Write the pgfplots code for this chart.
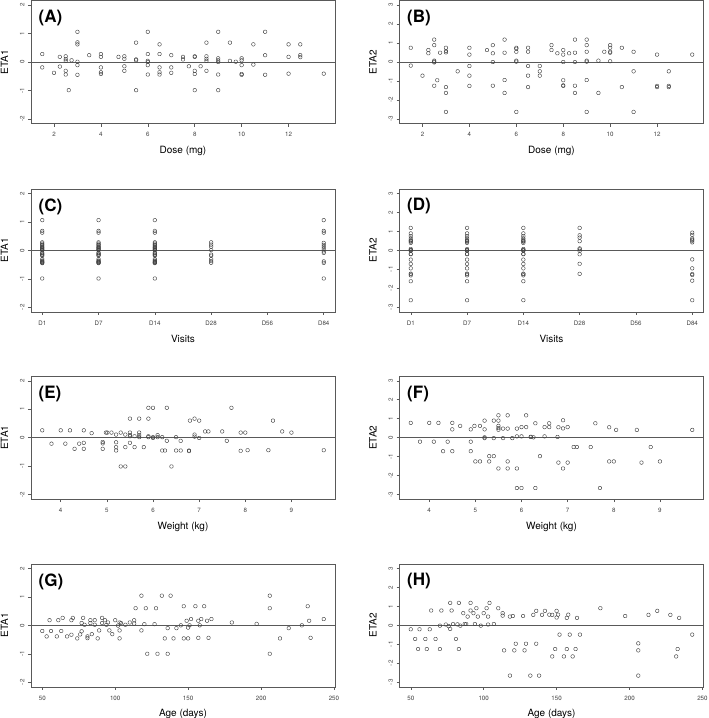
\documentclass[border=0pt]{standalone}
\usepackage{fontspec}
\setmainfont{TeX Gyre Heros}
\usepackage{pgfplots}
\pgfplotsset{compat=1.18}
\pgfdeclareplotmark{ring}{%
  \pgfpathmoveto{\pgfpointpolar{0}{\pgfplotmarksize}}%
  \foreach \a in {20,40,...,340}{\pgfpathlineto{\pgfpointpolar{\a}{\pgfplotmarksize}}}%
  \pgfpathclose\pgfusepathqstroke}
\tikzset{plab/.style={anchor=north west, inner sep=0pt, xshift=7.5pt, yshift=-9.5pt, font=\fontsize{17}{20}\bfseries\selectfont}}
\pgfplotsset{
 pan/.style={
  scale only axis, width=304pt, height=123pt,
  axis line style={black!65, line width=0.6pt},
  tick pos=left, tick align=outside, major tick length=3pt,
  tick style={black!65, line width=0.5pt},
  every tick label/.append style={font=\fontsize{6.2}{7.5}\selectfont, black!75},
  /pgf/number format/assume math mode=true,
  yticklabel style={rotate=90, anchor=south},
  xticklabel style={yshift=-2.5pt},
  label style={font=\fontsize{6.6}{8}\selectfont, black!75},
  every axis x label/.style={at={(rel axis cs:0.5,0)}, yshift=-27.5pt, anchor=center},
  every axis y label/.style={at={(rel axis cs:0,0.5)}, xshift=-26.5pt, rotate=90, anchor=center},
 },
 e1/.style={ymin=-2.16, ymax=2.16, ytick={-2,-1,0,1,2}, ylabel={ETA1}},
 e2/.style={ymin=-3.24, ymax=3.24, ytick={-3,-2,-1,0,1,2,3}, ylabel={ETA2}},
 dose/.style={xmin=1.02, xmax=13.98, xtick={2,4,6,8,10,12}, xlabel={Dose (mg)}},
 vis/.style={xmin=0.8, xmax=6.2, xtick={1,2,3,4,5,6}, xticklabels={D1,D7,D14,D28,D56,D84}, xlabel={Visits}},
 wt/.style={xmin=3.356, xmax=9.944, xtick={4,5,6,7,8,9}, xlabel={Weight (kg)}},
 age/.style={xmin=42.28, xmax=250.72, xtick={50,100,150,200,250}, xlabel={Age (days)}},
 pts/.style={only marks, mark=ring, mark size=1.75pt, mark options={black!75, line width=0.45pt}},
 zl/.style={no marks, black!65, line width=0.6pt},
}
\begin{document}
\begin{tikzpicture}
\useasboundingbox (0,0) rectangle (709pt,-718pt);
% (A)
\begin{axis}[pan, e1, dose, at={(31pt,-0.5pt)}, anchor=north west]
\addplot[zl] coordinates {(1.02,0) (13.98,0)};
\addplot[pts] coordinates {(1.5,0.28)(1.5,-0.19)(2,-0.38)(2.25,0.18)(2.25,-0.16)(2.5,0.2)(2.5,0.1)(2.5,0.04)(2.5,-0.31)(2.5,-0.44)(2.63,-0.99)(2.75,0.06)(3,1.06)(3,0.69)(3,0.62)(3,0.01)(3,-0.11)(3,-0.45)(3.5,0.24)(4,0.28)(4,0.18)(4,-0.19)(4,-0.36)(4,-0.42)(4.75,0.18)(5,0.2)(5,0.11)(5,-0.15)(5,-0.31)(5.5,0.68)(5.5,0.09)(5.5,0.06)(5.5,-0.99)(6,1.06)(6,0.28)(6,0.04)(6,0)(6,-0.11)(6,-0.44)(6.5,0.62)(6.5,0.28)(6.5,-0.19)(6.5,-0.36)(6.5,-0.44)(7,0.24)(7,-0.19)(7,-0.38)(7.5,0.18)(7.5,0.09)(7.75,-0.15)(8,0.2)(8,0.18)(8,-0.31)(8,-0.42)(8,-0.99)(8.25,-0.15)(8.5,0.68)(8.5,0.2)(8.5,0.11)(8.5,0.04)(8.5,-0.31)(9,1.06)(9,0.13)(9,0.06)(9,0)(9,-0.44)(9,-0.99)(9.5,0.68)(9.5,0.04)(9.75,0.01)(10,0.13)(10,0.06)(10,-0.11)(10,-0.42)(10,-0.45)(10.5,0.62)(10.5,-0.09)(11,1.06)(11,0.24)(11,-0.45)(12,0.62)(12,0.18)(12,-0.41)(12.5,0.62)(12.5,0.24)(12.5,0.17)(13.5,-0.41)};
\node[plab] at (rel axis cs:0,1) {(A)};
\end{axis}
% (B)
\begin{axis}[pan, e2, dose, at={(399.5pt,-0.5pt)}, anchor=north west]
\addplot[zl] coordinates {(1.02,0) (13.98,0)};
\addplot[pts] coordinates {(1.5,0.75)(1.5,-0.19)(2,-0.72)(2.25,0.63)(2.25,0.46)(2.5,1.18)(2.5,0.89)(2.5,0.07)(2.5,0.02)(2.5,-0.02)(2.5,-1.25)(2.63,-0.96)(2.75,0.49)(3,0.75)(3,0.58)(3,0.51)(3,-1.32)(3,-1.63)(3,-2.63)(3.5,-0.49)(4,0.75)(4,0.39)(4,-0.21)(4,-0.72)(4,-1.26)(4.75,0.63)(5,0.89)(5,0.46)(5,0)(5,-1.25)(5.5,1.18)(5.5,0.49)(5.5,-0.95)(5.5,-1.63)(6,0.75)(6,0.7)(6,0.54)(6,0.07)(6,0.02)(6,-2.63)(6.5,0.75)(6.5,0.54)(6.5,-0.21)(6.5,-0.72)(6.5,-1.32)(7,-0.21)(7,-0.49)(7,-0.72)(7.5,0.89)(7.5,0.63)(7.75,0.46)(8,0.63)(8,0.39)(8,0)(8,-0.96)(8,-1.23)(8,-1.26)(8.25,0.46)(8.5,1.18)(8.5,0.49)(8.5,0)(8.5,-1.25)(8.5,-1.63)(9,1.18)(9,0.89)(9,0.54)(9,0.07)(9,0.02)(9,-0.95)(9,-2.63)(9.5,0.07)(9.5,-1.63)(9.75,0.54)(10,0.89)(10,0.75)(10,0.54)(10,0.49)(10,0.04)(10.5,0.75)(10.5,-1.32)(11,0.54)(11,-0.49)(11,-2.63)(12,0.39)(12,-1.26)(12,-1.32)(12.5,-0.49)(12.5,-1.26)(12.5,-1.32)(13.5,0.39)};
\node[plab] at (rel axis cs:0,1) {(B)};
\end{axis}
% (C)
\begin{axis}[pan, e1, vis, at={(31pt,-188.8pt)}, anchor=north west]
\addplot[zl] coordinates {(0.8,0) (6.2,0)};
\addplot[pts] coordinates {
(1,1.06)(1,0.68)(1,0.62)(1,0.28)(1,0.24)(1,0.2)(1,0.18)(1,0.13)(1,0.11)(1,0.09)(1,0.06)(1,0.04)(1,0.01)(1,0)(1,-0.09)(1,-0.11)(1,-0.15)(1,-0.16)(1,-0.19)(1,-0.31)(1,-0.36)(1,-0.38)(1,-0.41)(1,-0.42)(1,-0.44)(1,-0.45)(1,-0.99)
(2,1.06)(2,0.68)(2,0.62)(2,0.28)(2,0.24)(2,0.2)(2,0.18)(2,0.13)(2,0.11)(2,0.09)(2,0.06)(2,0.04)(2,0.01)(2,0)(2,-0.09)(2,-0.11)(2,-0.15)(2,-0.16)(2,-0.19)(2,-0.31)(2,-0.36)(2,-0.38)(2,-0.41)(2,-0.42)(2,-0.44)(2,-0.45)(2,-0.99)
(3,1.06)(3,0.68)(3,0.62)(3,0.28)(3,0.24)(3,0.2)(3,0.18)(3,0.13)(3,0.11)(3,0.09)(3,0.06)(3,0.04)(3,0.01)(3,0)(3,-0.09)(3,-0.11)(3,-0.15)(3,-0.16)(3,-0.19)(3,-0.31)(3,-0.36)(3,-0.38)(3,-0.41)(3,-0.42)(3,-0.44)(3,-0.45)(3,-0.99)
(4,0.28)(4,0.2)(4,0.13)(4,0.01)(4,-0.15)(4,-0.19)(4,-0.31)(4,-0.38)(4,-0.44)
(6,1.06)(6,0.68)(6,0.62)(6,0.26)(6,0.19)(6,0.12)(6,0.05)(6,-0.04)(6,-0.09)(6,-0.39)(6,-0.44)(6,-0.99)};
\node[plab] at (rel axis cs:0,1) {(C)};
\end{axis}
% (D)
\begin{axis}[pan, e2, vis, at={(399.5pt,-188.8pt)}, anchor=north west]
\addplot[zl] coordinates {(0.8,0) (6.2,0)};
\addplot[pts] coordinates {
(1,1.18)(1,0.89)(1,0.75)(1,0.63)(1,0.54)(1,0.49)(1,0.46)(1,0.39)(1,0.07)(1,0.02)(1,0)(1,-0.02)(1,-0.19)(1,-0.21)(1,-0.49)(1,-0.72)(1,-0.95)(1,-1.23)(1,-1.26)(1,-1.32)(1,-1.63)(1,-2.63)
(2,1.18)(2,0.89)(2,0.75)(2,0.63)(2,0.54)(2,0.49)(2,0.46)(2,0.39)(2,0.07)(2,0.02)(2,0)(2,-0.02)(2,-0.19)(2,-0.21)(2,-0.49)(2,-0.72)(2,-0.95)(2,-1.23)(2,-1.26)(2,-1.32)(2,-1.63)(2,-2.63)
(3,1.18)(3,0.89)(3,0.75)(3,0.63)(3,0.54)(3,0.49)(3,0.46)(3,0.39)(3,0.07)(3,0.02)(3,0)(3,-0.02)(3,-0.19)(3,-0.21)(3,-0.49)(3,-0.72)(3,-0.95)(3,-1.23)(3,-1.26)(3,-1.32)(3,-1.63)(3,-2.63)
(4,1.18)(4,0.79)(4,0.67)(4,0.48)(4,0.1)(4,0.05)(4,-0.03)(4,-0.21)(4,-0.71)(4,-1.24)
(6,0.93)(6,0.81)(6,0.62)(6,0.56)(6,0.51)(6,0.42)(6,-0.48)(6,-0.95)(6,-1.25)(6,-1.3)(6,-1.6)(6,-2.63)};
\node[plab] at (rel axis cs:0,1) {(D)};
\end{axis}
% (E)
\begin{axis}[pan, e1, wt, at={(31pt,-376.2pt)}, anchor=north west]
\addplot[zl] coordinates {(3.356,0) (9.944,0)};
\addplot[pts] coordinates {(3.6,0.26)(3.8,-0.21)(4.0,0.26)(4.1,-0.21)(4.2,0.26)(4.3,-0.39)(4.4,-0.21)(4.5,0.26)(4.5,-0.18)(4.5,-0.39)(4.67,0.16)(4.91,-0.15)(4.91,-0.2)(4.91,-0.39)(4.98,0.18)(5.01,0.18)(5.1,0.18)(5.2,0.11)(5.2,-0.16)(5.2,-0.33)(5.2,-0.45)(5.3,0.18)(5.3,-1.01)(5.4,0.11)(5.4,-0.33)(5.4,-1.01)(5.5,0.67)(5.5,0.18)(5.5,0.09)(5.5,0.05)(5.5,-0.18)(5.6,0.05)(5.6,-0.33)(5.7,0.67)(5.7,0.18)(5.7,0.09)(5.7,0.02)(5.8,-0.33)(5.9,1.05)(5.9,0.67)(5.9,0.05)(5.9,0.02)(6.0,1.05)(6.0,0.02)(6.0,-0.01)(6.1,0.09)(6.1,0.02)(6.2,0.02)(6.2,-0.45)(6.26,-0.45)(6.3,1.05)(6.3,-0.11)(6.4,-1.01)(6.5,0.02)(6.5,-0.45)(6.6,-0.11)(6.6,-0.45)(6.78,-0.45)(6.78,-0.47)(6.8,0.6)(6.9,0.67)(6.9,0.11)(6.9,0.04)(7.0,0.6)(7.0,-0.01)(7.13,0.22)(7.2,0.22)(7.5,0.22)(7.6,-0.11)(7.7,1.05)(7.9,0.18)(7.9,-0.46)(8.0,0.18)(8.05,-0.44)(8.5,-0.44)(8.6,0.6)(8.8,0.22)(9.0,0.18)(9.7,-0.44)};
\node[plab] at (rel axis cs:0,1) {(E)};
\end{axis}
% (F)
\begin{axis}[pan, e2, wt, at={(399.5pt,-376.2pt)}, anchor=north west]
\addplot[zl] coordinates {(3.356,0) (9.944,0)};
\addplot[pts] coordinates {(3.6,0.78)(3.8,-0.21)(4.0,0.78)(4.1,-0.21)(4.2,0.78)(4.3,-0.71)(4.4,-0.21)(4.5,0.78)(4.5,0.44)(4.5,-0.71)(4.67,0.62)(4.9,0.44)(4.9,-0.21)(4.9,-0.71)(4.98,0.62)(5.0,-1.25)(5.1,0.62)(5.1,-1.25)(5.2,0.9)(5.2,0.44)(5.2,0.02)(5.2,-0.02)(5.3,-0.97)(5.3,-1.25)(5.4,0.9)(5.4,-0.02)(5.4,-0.97)(5.5,1.18)(5.5,0.9)(5.5,0.62)(5.5,0.51)(5.5,0.42)(5.5,-1.62)(5.6,0.48)(5.6,-0.02)(5.7,1.18)(5.7,0.48)(5.7,-1.25)(5.7,-1.62)(5.8,-0.02)(5.9,0.48)(5.9,0.07)(5.9,-1.62)(5.9,-2.65)(6.0,0.56)(6.0,0.07)(6.0,-2.65)(6.1,1.18)(6.1,0.56)(6.2,0.05)(6.2,0.04)(6.26,0.02)(6.3,0.76)(6.3,-2.65)(6.4,-0.97)(6.5,0.56)(6.5,0.07)(6.6,0.76)(6.6,0.56)(6.78,0.04)(6.8,0.55)(6.8,-1.31)(6.9,0.92)(6.9,0.49)(6.9,-1.62)(7.0,0.56)(7.0,-1.31)(7.13,-0.49)(7.2,-0.49)(7.5,-0.49)(7.6,0.76)(7.7,-2.65)(7.9,0.55)(7.9,-1.25)(8.0,-1.25)(8.05,0.41)(8.5,0.41)(8.6,-1.31)(8.8,-0.49)(9.0,-1.25)(9.7,0.41)};
\node[plab] at (rel axis cs:0,1) {(F)};
\end{axis}
% (G)
\begin{axis}[pan, e1, age, at={(31pt,-563.8pt)}, anchor=north west]
\addplot[zl] coordinates {(42.28,0) (250.72,0)};
\addplot[pts] coordinates {(50,-0.2)(53,-0.39)(55,0.18)(56,-0.2)(60,-0.39)(61,0.18)(63,-0.2)(64,0.26)(67,-0.39)(70,0.18)(70,-0.33)(71,0.26)(74,-0.46)(76,-0.32)(77,0.08)(77,-0.21)(78,0.26)(79,0.02)(81,-0.39)(81,-0.45)(83,0.18)(83,0.08)(84,-0.31)(86,0.18)(86,0.02)(88,-0.46)(89,-0.18)(91,0.26)(91,0.08)(93,0.18)(94,0.02)(95,0.1)(96,-0.18)(98,-0.31)(100,0.18)(102,-0.01)(103,0.1)(103,-0.18)(103,-0.46)(104,0.08)(107,0.02)(110,0.1)(113,0.18)(113,0.06)(114,0.6)(118,1.04)(118,-0.18)(120,0.04)(121,0.6)(122,-1)(127,0.04)(128,0.6)(129,-1)(132,1.04)(134,-0.46)(136,-0.1)(136,-1)(138,1.04)(140,-0.46)(142,-0.1)(145,0)(147,0.67)(147,-0.46)(149,0.16)(150,-0.08)(150,-0.46)(151,0)(152,0.22)(155,0.67)(157,0.16)(157,-0.44)(158,0)(159,0.22)(161,0.67)(163,0.16)(164,-0.44)(166,0.22)(180,0.1)(197,0.05)(206,1.04)(206,0.6)(206,-1)(213,-0.46)(219,-0.1)(228,0)(232,0.67)(233,0.16)(234,-0.44)(243,0.22)};
\node[plab] at (rel axis cs:0,1) {(G)};
\end{axis}
% (H)
\begin{axis}[pan, e2, age, at={(399.5pt,-563.8pt)}, anchor=north west]
\addplot[zl] coordinates {(42.28,0) (250.72,0)};
\addplot[pts] coordinates {(50,-0.21)(53,-0.72)(55,-1.25)(56,-0.21)(60,-0.72)(61,-1.25)(63,-0.21)(64,0.78)(67,-0.72)(70,-0.02)(70,-1.25)(71,0.78)(74,0.04)(76,-0.04)(77,1.18)(77,-0.19)(78,0.78)(79,0.07)(81,-0.72)(82,0.05)(83,1.18)(83,-1.25)(84,-0.02)(86,0.64)(87,0.07)(88,0.07)(89,0.46)(91,1.18)(91,0.78)(93,0.64)(94,0.07)(95,0.9)(96,0.46)(98,-0.02)(100,0.64)(102,0.9)(103,0.46)(103,0.04)(104,1.18)(107,0.07)(110,0.9)(113,0.64)(113,0.51)(114,-1.32)(118,0.46)(118,-2.65)(120,0.49)(121,-1.32)(122,-0.97)(127,0.49)(128,-1.32)(129,-0.97)(132,-2.65)(134,0.55)(136,0.76)(136,-0.97)(138,-2.65)(140,0.55)(142,0.76)(145,0.56)(147,0.55)(147,-1.64)(149,-1.25)(150,0.76)(150,0.41)(151,0.56)(152,-0.49)(155,-1.64)(157,-1.25)(157,0.39)(158,0.56)(159,-0.49)(161,-1.64)(163,-1.25)(164,0.39)(166,-0.49)(180,0.9)(197,0.49)(206,-0.95)(206,-1.32)(206,-2.65)(213,0.55)(219,0.76)(228,0.55)(232,-1.64)(233,-1.25)(234,0.39)(243,-0.49)};
\node[plab] at (rel axis cs:0,1) {(H)};
\end{axis}
\end{tikzpicture}
\end{document}
